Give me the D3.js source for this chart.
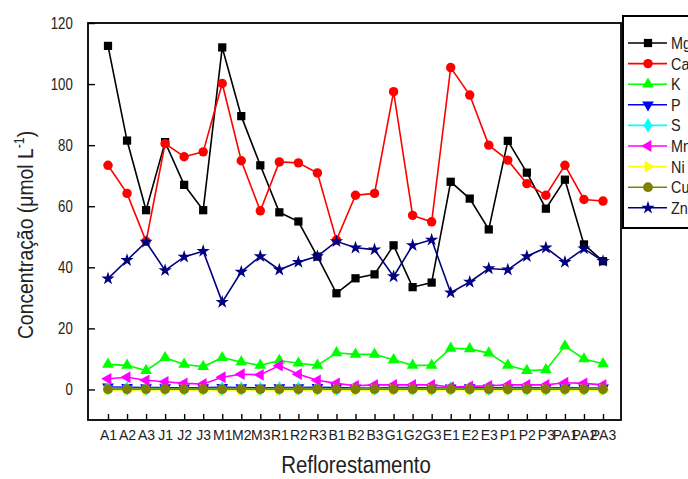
<!DOCTYPE html>
<html>
<head>
<meta charset="utf-8">
<script src="https://cdn.jsdelivr.net/npm/d3@7"></script>
<style>
  body { margin: 0; background: #fff; }
  svg { display: block; font-family: "Liberation Sans", Arial, sans-serif; }
</style>
</head>
<body>
<svg width="688" height="479"></svg>
<script>
var sites = ["A1","A2","A3","J1","J2","J3","M1","M2","M3","R1","R2","R3","B1","B2","B3",
             "G1","G2","G3","E1","E2","E3","P1","P2","P3","PA1","PA2","PA3"];

var mg = [112.5,81.5,58.7,81,67,58.7,112,89.5,73.4,58,55,43.5,31.5,36.4,37.7,
          47.2,33.5,35,68,62.5,52.4,81.4,71,59.2,68.7,47.5,42];
var ca = [73.4,64.2,48.5,80.5,76.2,77.8,100.2,74.9,58.5,74.5,74.2,70.9,48.9,63.6,64.2,
          97.5,57,54.9,105.4,96.4,80,75.1,67.4,63.6,73.4,62.2,61.7];
var k  = [8.2,7.9,6.2,10.4,8.2,7.5,10.4,9,7.9,9.5,8.6,7.9,12,11.5,11.5,
          9.7,7.9,7.9,13.5,13.3,11.9,7.9,6.2,6.4,14.2,10,8.4];
var p  = [0.8,0.7,0.6,0.6,0.5,0.6,0.7,0.6,0.5,0.6,0.6,0.7,0.6,0.5,0.5,
          0.6,0.6,0.5,0.5,0.6,0.5,0.6,0.6,0.5,0.6,0.5,0.5];
var s  = [0.4,0.3,0.3,0.3,0.2,0.3,0.3,0.3,0.2,0.3,0.3,0.3,0.2,0.3,0.3,
          0.3,0.3,0.2,0.3,0.3,0.2,0.3,0.3,0.3,0.3,0.3,0.3];
var mn = [3.5,4,3,2.5,2,1.8,4,5,4.8,7.8,5,3,2,1.2,1.5,
          1.5,1.5,1.5,0.8,1,1.2,1.5,1.5,1.5,2.2,2,1.5];
var ni = [-0.2,-0.2,-0.2,-0.2,-0.2,-0.2,-0.2,-0.2,-0.2,-0.2,-0.2,-0.2,-0.2,-0.2,-0.2,
          -0.2,-0.2,-0.2,-0.2,-0.2,-0.2,-0.2,-0.2,-0.2,-0.2,-0.2,-0.2];
var cu = [0.1,0.1,0.1,0.1,0.1,0.1,0.1,0.1,0.1,0.1,0.1,0.1,0.1,0.1,0.1,
          0.1,0.1,0.1,0.1,0.1,0.1,0.1,0.1,0.1,0.1,0.1,0.1];
var zn = [36.3,42.3,48.3,39,43.4,45.3,28.6,38.5,43.6,39.2,41.7,43.6,48.5,46.4,45.8,
          37,47.2,49,31.7,35.2,39.6,39.2,43.6,46.4,41.7,46.1,42];

var yTicks = [0, 20, 40, 60, 80, 100, 120];

var series = [
  {name: "Mg", values: mg, color: "#000000", symbol: d3.symbolSquare, rotate: 0, size: 68},
  {name: "Ca", values: ca, color: "#ff0000", symbol: d3.symbolCircle, rotate: 0, size: 70},
  {name: "K",  values: k,  color: "#00ff00", symbol: d3.symbolTriangle, rotate: 0, size: 60},
  {name: "P",  values: p,  color: "#0000ff", symbol: d3.symbolTriangle, rotate: 180, size: 60},
  {name: "S",  values: s,  color: "#00ffff", symbol: d3.symbolDiamond, rotate: 0, size: 64},
  {name: "Mn", values: mn, color: "#ff00ff", symbol: d3.symbolTriangle, rotate: -90, size: 60},
  {name: "Ni", values: ni, color: "#ffff00", symbol: d3.symbolTriangle, rotate: 90, size: 60},
  {name: "Cu", values: cu, color: "#808000", symbol: d3.symbolCircle, rotate: 0, size: 76},
  {name: "Zn", values: zn, color: "#000080", symbol: d3.symbolStar, rotate: 0, size: 55}
];

var svg = d3.select("svg");

var plotLeft = 88, plotTop = 23, plotRight = 621, plotBottom = 420;

var x = d3.scalePoint()
    .domain(sites)
    .range([108, 603]);

var y = d3.scaleLinear()
    .domain([-10, 120])
    .range([plotBottom, plotTop]);

// frame
svg.append("rect")
    .attr("x", plotLeft)
    .attr("y", plotTop)
    .attr("width", plotRight - plotLeft)
    .attr("height", plotBottom - plotTop)
    .attr("fill", "none")
    .attr("stroke", "#000")
    .attr("stroke-width", 1.8);

// axes, ticks pointing inward; text squeezed a bit like the original export
svg.append("g")
    .attr("transform", "translate(" + plotLeft + ",0)")
    .call(d3.axisLeft(y).tickValues(yTicks).tickSizeInner(-7).tickSizeOuter(0).tickPadding(19))
    .call(function(g) { g.select(".domain").remove(); })
    .call(function(g) {
      g.selectAll("line").attr("stroke", "#000").attr("stroke-width", 1.4);
      g.selectAll("text").attr("font-size", 16.5).attr("fill", "#222")
          .attr("font-family", "Liberation Sans, Arial, sans-serif")
          .attr("transform", "scale(0.8,1)");
    });

svg.append("g")
    .attr("transform", "translate(0," + plotBottom + ")")
    .call(d3.axisBottom(x).tickSizeInner(-6).tickSizeOuter(0).tickPadding(10))
    .call(function(g) { g.select(".domain").remove(); })
    .call(function(g) {
      g.selectAll("line").attr("stroke", "#000").attr("stroke-width", 1.4);
      g.selectAll("text").attr("font-size", 14).attr("fill", "#222")
          .attr("font-family", "Liberation Sans, Arial, sans-serif");
    });

// axis titles
svg.append("text")
    .attr("transform", "translate(33,235) rotate(-90) scale(0.88,1)")
    .attr("text-anchor", "middle")
    .attr("font-size", 22)
    .attr("fill", "#222")
    .html("Concentração (μmol L<tspan dy='-9' font-size='14'>-1</tspan><tspan dy='9'>)</tspan>");

svg.append("text")
    .attr("transform", "translate(356,473) scale(0.85,1)")
    .attr("text-anchor", "middle")
    .attr("font-size", 24)
    .attr("fill", "#222")
    .text("Reflorestamento");

// lines and markers
var line = d3.line()
    .x(function(d, i) { return x(sites[i]); })
    .y(function(d) { return y(d); });

var plot = svg.append("g");

series.forEach(function(ser) {
  var g = plot.append("g");
  g.append("path")
      .attr("d", line(ser.values))
      .attr("fill", "none")
      .attr("stroke", ser.color)
      .attr("stroke-width", 1.6);
  g.selectAll("path.mark")
    .data(ser.values)
    .enter().append("path")
      .attr("class", "mark")
      .attr("d", d3.symbol().type(ser.symbol).size(ser.size))
      .attr("transform", function(d, i) {
        return "translate(" + x(sites[i]) + "," + y(d) + ") rotate(" + ser.rotate + ")";
      })
      .attr("fill", ser.color);
});

// legend
var legend = svg.append("g");

legend.append("rect")
    .attr("x", 623)
    .attr("y", 16)
    .attr("width", 80)
    .attr("height", 212)
    .attr("fill", "#fff")
    .attr("stroke", "#000")
    .attr("stroke-width", 2);

var item = legend.selectAll("g.item")
    .data(series)
    .enter().append("g")
      .attr("class", "item")
      .attr("transform", function(d, i) { return "translate(0," + (43 + i * 20.6) + ")"; });

item.append("line")
    .attr("x1", 628)
    .attr("x2", 667)
    .attr("stroke", function(d) { return d.color; })
    .attr("stroke-width", 1.6);

item.append("path")
    .attr("d", function(d) { return d3.symbol().type(d.symbol).size(d.size)(); })
    .attr("transform", function(d) { return "translate(648,0) rotate(" + d.rotate + ")"; })
    .attr("fill", function(d) { return d.color; });

item.append("text")
    .attr("transform", "translate(671,6) scale(0.9,1)")
    .attr("font-size", 16)
    .attr("fill", "#222")
    .text(function(d) { return d.name; });
</script>
</body>
</html>
